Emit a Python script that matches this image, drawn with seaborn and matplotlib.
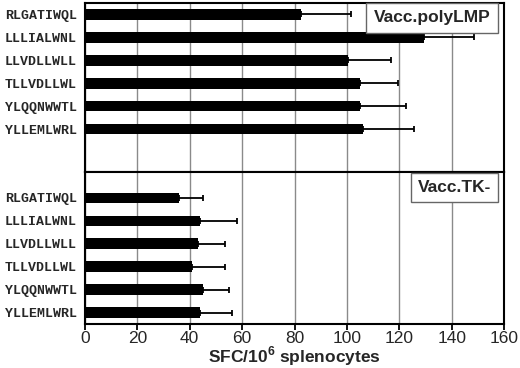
import matplotlib
matplotlib.use("Agg")
import matplotlib.pyplot as plt
import seaborn as sns
import numpy as np
import pandas as pd

peptides = ["RLGATIWQL", "LLLIALWNL", "LLVDLLWLL", "TLLVDLLWL", "YLQQNWWTL", "YLLEMLWRL"]
poly_mean = [82.5, 129.5, 100.5, 105.0, 105.0, 106.0]
poly_err = [19.0, 19.0, 16.5, 14.5, 17.5, 19.5]
tk_mean = [36.0, 44.0, 43.0, 41.0, 45.0, 44.0]
tk_err = [9.0, 14.0, 10.5, 12.5, 10.0, 12.0]
panel_labels = ["Vacc.polyLMP", "Vacc.TK-"]
xticks = [0, 20, 40, 60, 80, 100, 120, 140, 160]

sns.set_style("white")
plt.rcParams["font.family"] = ["Liberation Sans", "DejaVu Sans"]
plt.rcParams["mathtext.fontset"] = "custom"
plt.rcParams["mathtext.rm"] = "Liberation Sans"
plt.rcParams["mathtext.bf"] = "Liberation Sans:bold"

W, H = 520, 368
fig = plt.figure(figsize=(5.2, 3.68), dpi=100)
L, R = 85, 504
ax_top = fig.add_axes([L / W, 1 - 172 / H, (R - L) / W, (172 - 3) / H])
ax_bot = fig.add_axes([L / W, 1 - 324 / H, (R - L) / W, (324 - 172) / H])

panels = [
    (ax_top, poly_mean, poly_err, panel_labels[0], (-0.5, 6.87), (132.5, 0.15)),
    (ax_bot, tk_mean, tk_err, panel_labels[1], (-1.13, 5.5), (141.1, -0.46)),
]

for ax, mean, err, lab, (ytop, ybot), (tx, ty) in panels:
    df = pd.DataFrame({"peptide": peptides, "sfc": mean})
    sns.barplot(data=df, x="sfc", y="peptide", orient="h", color="black",
                width=0.46, ax=ax, saturation=1, linewidth=0, zorder=3)
    ypos = np.arange(len(peptides))
    ax.errorbar(mean, ypos, xerr=[np.zeros(len(err)), err], fmt="none",
                ecolor="black", elinewidth=1.3, capsize=2.2, capthick=1.3, zorder=4)
    ax.set_xlim(0, 160)
    ax.set_ylim(ybot, ytop)
    ax.set_xticks(xticks)
    ax.xaxis.grid(True, color="#8a8a8a", linewidth=1.0, zorder=0)
    ax.yaxis.grid(False)
    ax.set_axisbelow(True)
    ax.set_ylabel("")
    ax.set_xlabel("")
    ax.set_yticks(ypos)
    ax.set_yticklabels(peptides, family="Liberation Mono", fontweight="bold", fontsize=9.5)
    ax.tick_params(axis="y", which="major", length=0, pad=6)
    ax.set_yticks(np.arange(-0.5, 6.0, 1.0), minor=True)
    ax.tick_params(axis="y", which="minor", length=4, width=1.3, direction="out", color="black")
    for s in ax.spines.values():
        s.set_visible(True)
        s.set_color("black")
        s.set_linewidth(1.5)
    ax.text(tx, ty, lab, ha="center", va="center", fontsize=12.5, fontweight="bold",
            bbox=dict(boxstyle="square,pad=0.42", facecolor="white",
                      edgecolor="#666666", linewidth=1.0), zorder=5)

ax_top.tick_params(axis="x", which="both", bottom=False, labelbottom=False, length=0)
ax_bot.tick_params(axis="x", which="major", bottom=True, length=4, width=1.3,
                   direction="out", labelsize=12.5, pad=1, color="black")
ax_bot.set_xlabel(r"SFC/10$^{\mathbf{6}}$ splenocytes", fontsize=12.5,
                  fontweight="bold", labelpad=-1)

fig.savefig("out.png", dpi=100, facecolor="white")
